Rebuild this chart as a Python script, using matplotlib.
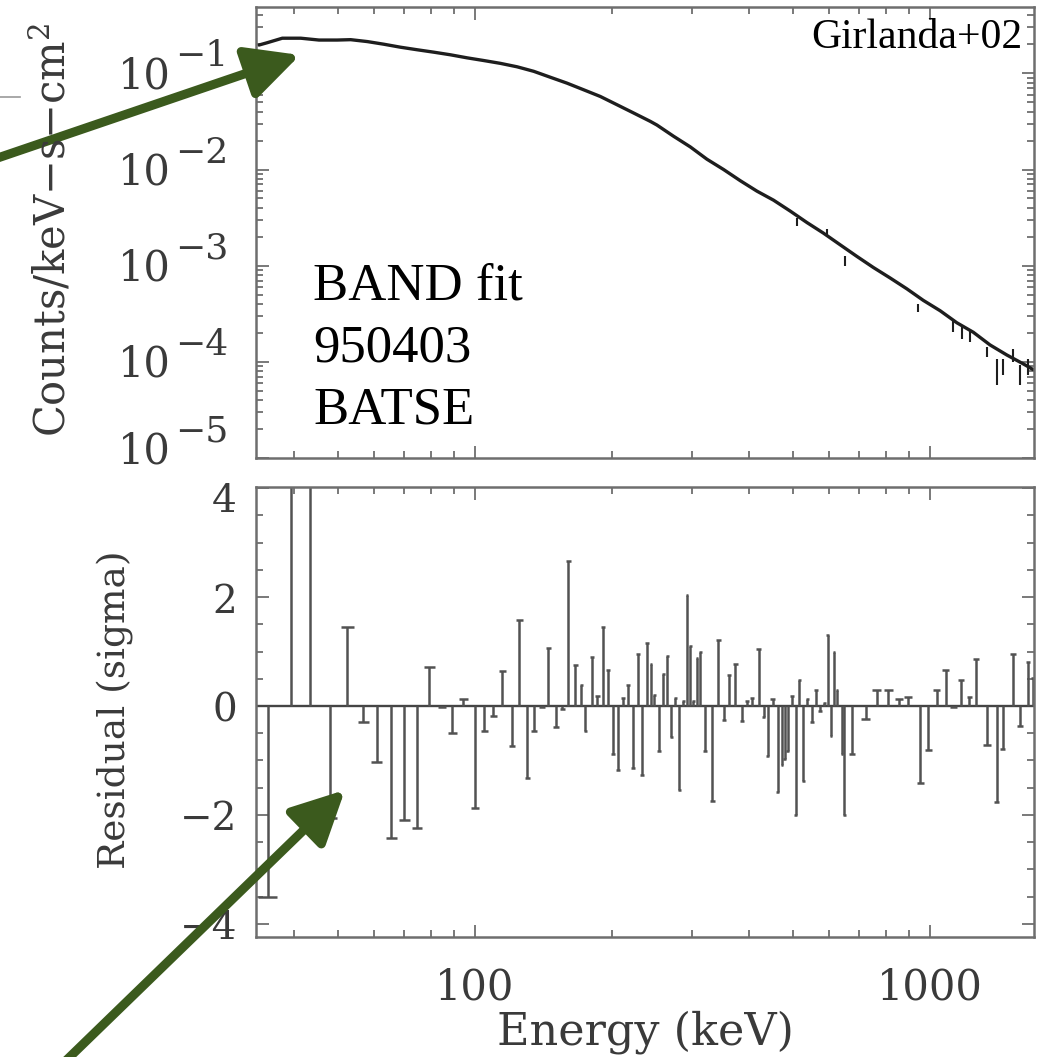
import numpy as np
import matplotlib
matplotlib.use('Agg')
import matplotlib.pyplot as plt
from matplotlib.patches import FancyArrowPatch
from matplotlib.ticker import LogLocator, FixedLocator, MultipleLocator, NullFormatter, FuncFormatter
from matplotlib.transforms import blended_transform_factory, ScaledTranslation

# model curve (keV, counts/keV-s-cm2)
model_energy = [33.5, 34.9, 37.7, 41.4, 45.4, 49.8, 53.3, 58.0, 63.0, 68.6, 74.6, 81.2, 88.3,
                96.1, 104.5, 113.8, 123.8, 134.7, 146.5, 159.4, 173.4, 188.7, 205.3, 223.4,
                243.0, 251.4, 273.4, 297.6, 323.8, 352.3, 383.4, 417.1, 453.7, 493.6, 537.3,
                584.2, 635.7, 691.8, 752.4, 818.9, 891.0, 969.2, 1055, 1148, 1248, 1358,
                1478, 1607, 1690]
model_counts = [0.197, 0.208, 0.232, 0.232, 0.222, 0.222, 0.224, 0.214, 0.201, 0.187, 0.176,
                0.166, 0.156, 0.145, 0.136, 0.127, 0.117, 0.105, 0.0911, 0.0791, 0.0675,
                0.0575, 0.0472, 0.0387, 0.0317, 0.0290, 0.0222, 0.0172, 0.0128, 0.0100,
                0.00765, 0.00596, 0.00480, 0.00370, 0.00281, 0.00218, 0.00165, 0.00125,
                0.000957, 0.000745, 0.000575, 0.000435, 0.000340, 0.000255, 0.000203,
                0.000150, 0.000118, 0.0000953, 0.0000830]

# data points with visible error bars
data_energy = [510.7, 594.3, 652.2, 944.9, 1128, 1177, 1227, 1336, 1405, 1449, 1524, 1581, 1649]
data_counts = [2.87e-3, 2.17e-3, 1.12e-3, 3.63e-4, 2.33e-4, 2.03e-4, 1.87e-4, 1.27e-4,
               7.8e-5, 8.8e-5, 1.16e-4, 7.2e-5, 8.8e-5]
data_lo = [2.61e-3, 1.98e-3, 9.95e-4, 3.30e-4, 2.02e-4, 1.73e-4, 1.60e-4, 1.13e-4,
           5.7e-5, 7.3e-5, 9.9e-5, 5.7e-5, 7.3e-5]
data_hi = [3.16e-3, 2.39e-3, 1.27e-3, 4.00e-4, 2.69e-4, 2.38e-4, 2.20e-4, 1.43e-4,
           1.07e-4, 1.07e-4, 1.36e-4, 9.2e-5, 1.07e-4]

# residuals (sigma) per channel
resid_energy = [35.0, 39.4, 43.3, 47.9, 52.4, 56.8, 60.8, 65.5, 70.0, 74.6, 79.4, 84.7, 89.2,
                94.3, 100.0, 104.9, 109.8, 114.9, 120.7, 125.3, 130.5, 135.1, 140.5, 145.0,
                150.8, 155.5, 160.6, 166.3, 171.4, 175.0, 181.0, 185.9, 191.6, 196.5, 201.6,
                206.7, 211.7, 217.5, 222.7, 228.4, 233.4, 239.0, 243.9, 248.0, 254.0, 259.6,
                264.9, 270.3, 275.9, 281.5, 287.2, 292.6, 297.6, 302.2, 307.9, 313.1, 321.1,
                332.7, 343.0, 353.6, 362.6, 373.8, 386.7, 396.6, 406.7, 420.5, 431.3, 440.1,
                451.4, 463.0, 473.5, 479.7, 487.0, 497.9, 508.1, 517.4, 528.0, 538.8, 551.0,
                562.2, 574.5, 587.2, 597.4, 607.4, 615.8, 625.2, 641.2, 649.7, 674.5, 724.1,
                765.6, 812.0, 857.0, 898.3, 953.0, 994.0, 1037, 1085, 1128, 1173, 1223, 1265,
                1336, 1405, 1449, 1524, 1581, 1649, 1690]
resid_sigma = [-3.50, 4.5, 4.5, -2.05, 1.45, -0.30, -1.03, -2.42, -2.09, -2.24, 0.71, -0.02,
               -0.50, 0.12, -1.88, -0.45, -0.18, 0.65, -0.73, 1.58, -1.32, -0.45, -0.02, 1.07,
               -0.39, -0.06, 2.67, 0.76, 0.38, -0.45, 0.90, 0.18, 1.45, 0.67, -0.88, -1.18,
               0.14, 0.38, -1.14, 0.95, -1.27, 1.16, 0.77, 0.21, -0.82, 0.58, 0.91, -0.56,
               0.14, -1.55, 0.09, 2.03, 1.10, 0.09, 0.88, 1.00, -0.82, -1.75, 1.22, -0.25,
               0.56, 0.77, -0.28, 0.09, 0.15, 1.04, -0.21, -0.91, 0.12, -1.58, -1.08, -0.97,
               -0.82, 0.18, -2.00, 0.48, -1.38, 0.12, -0.30, 0.30, -0.09, 0.06, 1.30, -0.55,
               1.00, 0.29, -0.88, -2.00, -0.88, -0.23, 0.30, 0.30, 0.12, 0.17, -1.41, -0.80,
               0.29, 0.67, -0.02, 0.47, 0.17, 0.86, -0.71, -1.76, -0.79, 0.96, -0.36, 0.80, 0.52]

count_ticks = [1e-1, 1e-2, 1e-3, 1e-4, 1e-5]
resid_ticks = [4, 2, 0, -2, -4]

plt.rcParams['mathtext.fontset'] = 'dejavuserif'
plt.rcParams['font.family'] = 'DejaVu Serif'

W, H = 1039, 1057
fig = plt.figure(figsize=(W / 100, H / 100), dpi=100)
ax1 = fig.add_axes([256 / W, 1 - 458 / H, 778 / W, 451 / H])
ax2 = fig.add_axes([256 / W, 1 - 937 / H, 778 / W, 450 / H], sharex=ax1)

frame_col = '#6e6e6e'
text_col = '#3a3a3a'


def shift(dx, dy):
    # pixel offset, dy positive downwards
    return ScaledTranslation(dx / 100, -dy / 100, fig.dpi_scale_trans)


ax1.set_yscale('log')
for ax in (ax1, ax2):
    ax.set_xscale('log')
    for s in ax.spines.values():
        s.set_color(frame_col)
        s.set_linewidth(1.8)
    ax.tick_params(which='both', direction='in', top=True, right=True, color=frame_col,
                   width=1.3, labelcolor=text_col, labelsize=29)
    ax.tick_params(which='major', length=9)
    ax.tick_params(which='minor', length=5)
    ax.xaxis.set_major_locator(FixedLocator([100, 1000]))
    ax.xaxis.set_minor_locator(LogLocator(base=10, subs=np.arange(2, 10)))
    ax.xaxis.set_minor_formatter(NullFormatter())
    ax.yaxis.set_major_formatter(NullFormatter())
    ax.yaxis.set_minor_formatter(NullFormatter())

ax1.set_xlim(33, 1697)

# upper panel: spectrum
ax1.set_ylim(1e-5, 10 ** -0.31)
ax1.plot(model_energy, model_counts, color='#1e1e1e', lw=2.4, solid_capstyle='round')
d = np.array(data_counts)
yerr = [d - np.array(data_lo), np.array(data_hi) - d]
ax1.errorbar(data_energy, data_counts, yerr=yerr, fmt='none', ecolor='#1e1e1e',
             elinewidth=1.5, capsize=0)
ax1.yaxis.set_major_locator(FixedLocator(count_ticks))
ax1.yaxis.set_minor_locator(LogLocator(base=10, subs=np.arange(2, 10), numticks=20))
ax1.tick_params(axis='x', labelbottom=False)

trans1 = blended_transform_factory(fig.transFigure, ax1.transData)
for i, v in enumerate(count_ticks):
    up = 10 if i == len(count_ticks) - 1 else 0
    ax1.text(171 / W, v, '10', transform=trans1 + shift(0, 3 - up), ha='right', va='center',
             fontsize=30, color=text_col, clip_on=False)
    ax1.text(175 / W, v, '\u2212%d' % round(-np.log10(v)), transform=trans1 + shift(0, -17 - up),
             ha='left', va='center', fontsize=26, color=text_col, clip_on=False)

# lower panel: residuals
e = np.array(resid_energy)
r = np.array(resid_sigma)
le = np.log10(e)
gaps = np.diff(le)
left = np.concatenate([[gaps[0]], gaps])
right = np.concatenate([gaps, [gaps[-1]]])
half = 0.42 * np.minimum(left, right)
bar_col = '#525252'
ax2.axhline(0, color='#444444', lw=1.7)
ax2.vlines(e, 0, r, color=bar_col, lw=1.8)
ax2.hlines(r, 10 ** (le - half), 10 ** (le + half), color=bar_col, lw=1.8)
ax2.set_ylim(-4.24, 4.02)
ax2.yaxis.set_major_locator(FixedLocator(resid_ticks))
ax2.yaxis.set_minor_locator(MultipleLocator(0.5))
ax2.xaxis.set_major_formatter(FuncFormatter(lambda v, p: '%d' % v))
ax2.tick_params(axis='x', pad=21, labelsize=30)

trans2 = blended_transform_factory(fig.transFigure, ax2.transData)
for v in resid_ticks:
    down = 13 if v == max(resid_ticks) else 5
    ax2.text(237 / W, v, '%d' % v if v >= 0 else '\u2212%d' % -v, transform=trans2 + shift(0, down),
             ha='right', va='center', fontsize=28, color=text_col, clip_on=False)

# axis titles
fig.text(52 / W, 1 - 230 / H, r'Counts/keV$-$s$-$cm$^2$', rotation=90, ha='center', va='center',
         fontsize=30, color=text_col)
fig.text(115 / W, 1 - 710 / H, 'Residual (sigma)', rotation=90, ha='center', va='center',
         fontsize=27, color=text_col)
fig.text(645 / W, 1 - 1032 / H, 'Energy (keV)', ha='center', va='center',
         fontsize=32, color=text_col)

# annotations
fig.text(313 / W, 1 - 262 / H, 'BAND fit\n950403\nBATSE', ha='left', va='top',
         fontsize=38, family='Liberation Serif', linespacing=1.38, color='black')
fig.text(1022 / W, 1 - 48 / H, 'Girlanda+02', ha='right', va='baseline',
         fontsize=30, family='Liberation Serif', color='black')

# stray line at top-left
fig.add_artist(plt.Line2D([0, 20 / W], [1 - 97 / H, 1 - 97 / H], transform=fig.transFigure,
                          color='#999999', lw=1.2))

# green arrows
green = '#3b5a1d'
for start, tip in [((-20, 164), (300, 55)), ((46, 1080), (345, 790))]:
    arr = FancyArrowPatch((start[0] / W, 1 - start[1] / H), (tip[0] / W, 1 - tip[1] / H),
                          transform=fig.transFigure, arrowstyle='-|>,head_length=3.2,head_width=1.6',
                          mutation_scale=10, lw=6.5, color=green, shrinkA=0, shrinkB=0)
    fig.add_artist(arr)

fig.savefig('out.png', dpi=100)
